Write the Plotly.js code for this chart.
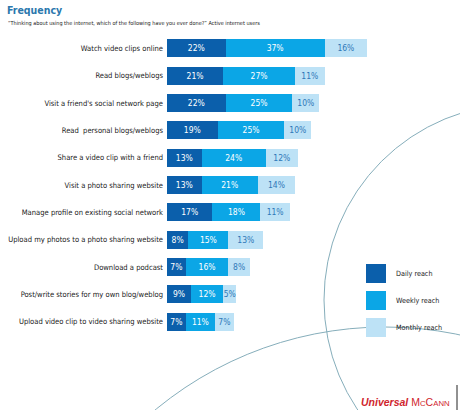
<!DOCTYPE html>
<html>
<head>
<meta charset="utf-8">
<script src="https://cdn.plot.ly/plotly-3.0.1.min.js"></script>
<style>html,body{margin:0;padding:0;background:#fff;}#chart{width:460px;height:410px;}</style>
</head>
<body>
<div id="chart"></div>
<script>
// ---- data ----
const activities = [
  "Watch video clips online",
  "Read blogs/weblogs",
  "Visit a friend's social network page",
  "Read  personal blogs/weblogs",
  "Share a video clip with a friend",
  "Visit a photo sharing website",
  "Manage profile on existing social network",
  "Upload my photos to a photo sharing website",
  "Download a podcast",
  "Post/write stories for my own blog/weblog",
  "Upload video clip to video sharing website"
];
const dailyReach   = [22, 21, 22, 19, 13, 13, 17, 8, 7, 9, 7];
const weeklyReach  = [37, 27, 25, 25, 24, 21, 18, 15, 16, 12, 11];
const monthlyReach = [16, 11, 10, 10, 12, 14, 11, 13, 8, 5, 7];
const seriesNames = ["Daily reach", "Weekly reach", "Monthly reach"];

const W = 460, H = 410;
const px = v => v / W;
const py = v => 1 - v / H;
const FONT = "'DejaVu Sans Condensed', 'Liberation Sans Narrow', sans-serif";
const colors = ["#0b5fab", "#0ba6e6", "#bde2f6"];
const textColors = ["#ffffff", "#ffffff", "#2f78b8"];
const seriesValues = [dailyReach, weeklyReach, monthlyReach];

const traces = seriesValues.map((vals, i) => ({
  type: "bar",
  orientation: "h",
  name: seriesNames[i],
  y: activities,
  x: vals,
  text: vals.map(v => v + "%"),
  textposition: "inside",
  insidetextanchor: "middle",
  textangle: 0,
  constraintext: "none",
  textfont: {family: FONT, size: 8.5, color: textColors[i]},
  marker: {color: colors[i], line: {width: 0}},
  hoverinfo: "skip"
}));

const shapes = [
  {type: "circle", xref: "paper", yref: "paper", layer: "below",
   x0: px(324), x1: px(716), y0: py(496), y1: py(104),
   line: {color: "#86aebb", width: 1}},
  {type: "circle", xref: "paper", yref: "paper", layer: "below",
   x0: px(25), x1: px(745), y0: py(1047), y1: py(327),
   line: {color: "#86aebb", width: 1}},
  {type: "line", xref: "paper", yref: "paper",
   x0: px(457), x1: px(457), y0: py(385), y1: py(410),
   line: {color: "#222", width: 1}}
];
const legendTops = [264, 291, 318];
const annotations = [
  {xref: "paper", yref: "paper", x: px(5), y: py(10), xanchor: "left", yanchor: "middle",
   text: "<b>Frequency</b>", showarrow: false,
   font: {family: FONT, size: 10.5, color: "#2b78ad"}},
  {xref: "paper", yref: "paper", x: px(6), y: py(23), xanchor: "left", yanchor: "middle",
   text: "\u201CThinking about using the internet, which of the following have you ever done?\u201D Active internet users",
   showarrow: false, font: {family: FONT, size: 5.5, color: "#222"}},
  {xref: "paper", yref: "paper", x: px(452), y: py(402), xanchor: "right", yanchor: "middle",
   text: "<b><i>Universal</i></b> M<span style='font-size:7.8px'>C</span>C<span style='font-size:7.8px'>ANN</span>",
   showarrow: false, font: {family: "'Liberation Sans', Arial, sans-serif", size: 10.5, color: "#d0262e"}}
];
legendTops.forEach((t, i) => {
  shapes.push({type: "rect", xref: "paper", yref: "paper",
    x0: px(366), x1: px(386), y0: py(t + 19), y1: py(t),
    fillcolor: colors[i], line: {width: 0}});
  annotations.push({xref: "paper", yref: "paper", x: px(394), y: py(t + 9.5),
    xanchor: "left", yanchor: "middle", text: seriesNames[i], showarrow: false,
    font: {family: FONT, size: 7.2, color: "#222"}});
});

const layout = {
  width: W, height: H,
  margin: {l: 0, r: 0, t: 0, b: 0, pad: 0},
  paper_bgcolor: "#fff", plot_bgcolor: "rgba(0,0,0,0)",
  barmode: "stack",
  bargap: 0.34,
  showlegend: false,
  xaxis: {domain: [px(167), 1], range: [0, 293 / 2.67], visible: false, fixedrange: true},
  yaxis: {domain: [py(335.4), py(34.6)], type: "category", categoryorder: "array",
          categoryarray: activities, range: [10.5, -0.5], showgrid: false, zeroline: false,
          showline: false, ticks: "", automargin: false, ticklabelstandoff: 3,
          tickfont: {family: FONT, size: 7.55, color: "#222"}, fixedrange: true},
  shapes: shapes,
  annotations: annotations
};
Plotly.newPlot("chart", traces, layout, {displayModeBar: false, staticPlot: true});
</script>
</body>
</html>
